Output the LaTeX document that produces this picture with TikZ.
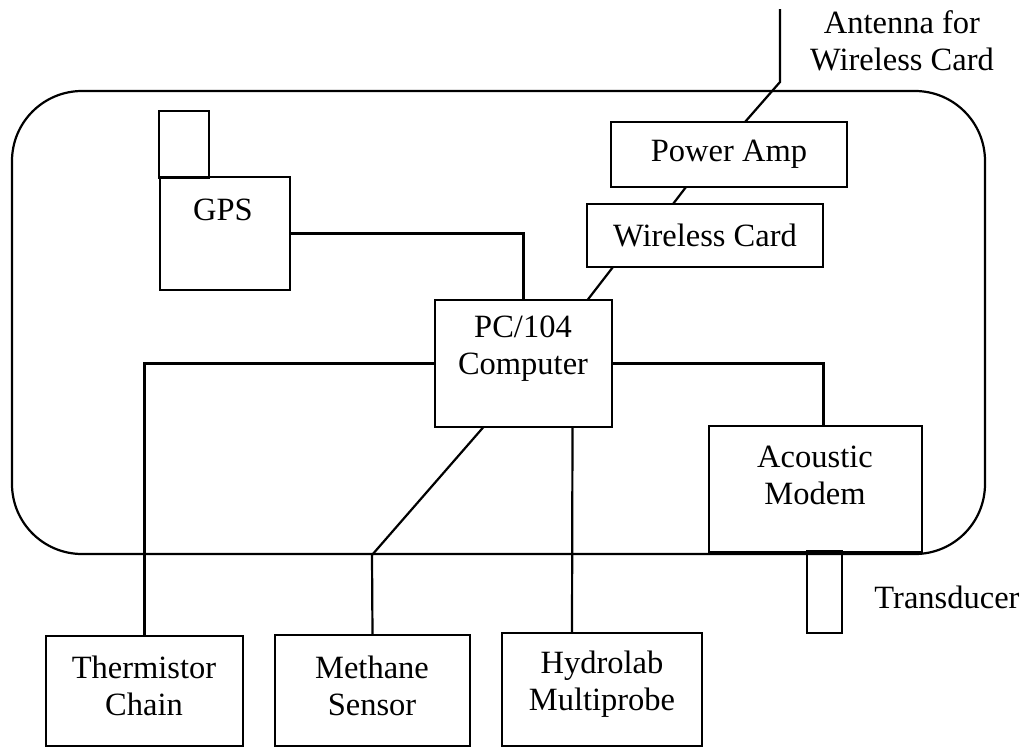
\documentclass[tikz,border=0pt]{standalone}
\usepackage{fontspec}
\setmainfont{Liberation Serif}
\usetikzlibrary{calc}
\begin{document}
\begin{tikzpicture}[x=1pt,y=-1pt,
  line width=2.2pt,
  box/.style={draw, line width=2.2pt, inner sep=0pt, outer sep=0pt, anchor=north west},
  lbl/.style={inner sep=0pt, align=center, font=\fontsize{32.5}{37}\selectfont},
  wire/.style={draw, line width=2.2pt}]
\useasboundingbox (0,0) rectangle (1023,748);
% enclosure
\draw[wire, rounded corners=70pt] (12,91) rectangle (985,554);
% boxes
\node[box, minimum width=50, minimum height=67] (ant) at (159,111) {};
\node[box, minimum width=130, minimum height=113] (gps) at (160,177) {};
\node[box, minimum width=236, minimum height=65] (pa) at (611,122) {};
\node[box, minimum width=236, minimum height=63] (wc) at (587,204) {};
\node[box, minimum width=177, minimum height=127] (pc) at (435,300) {};
\node[box, minimum width=213, minimum height=126] (modem) at (709,426) {};
\node[box, minimum width=35, minimum height=82] (trans) at (807,551) {};
\node[box, minimum width=197, minimum height=110] (therm) at (46,636) {};
\node[box, minimum width=195, minimum height=111] (meth) at (275,635) {};
\node[box, minimum width=200, minimum height=113] (hydro) at (502,633) {};
% labels
\node[lbl] (gpsl) at (223,210) {GPS};
\node[lbl] (pal) at (729,154) {Power Amp};
\node[lbl] (wcl) at (705,235) {Wireless Card};
\node[lbl] (pcl) at (523,349) {PC/104\\Computer};
\node[lbl] (modeml) at (815,475) {Acoustic\\Modem};
\node[lbl] (therml) at (144,686) {Thermistor\\Chain};
\node[lbl] (methl) at (372,686) {Methane\\Sensor};
\node[lbl] (hydrol) at (602,684) {Hydrolab\\Multiprobe};
\node[lbl] (antl) at (902,41) {Antenna for\\Wireless Card};
\node[lbl] (transl) at (947,597) {Transducer};
% connectors
\coordinate (antTop) at (780,9);
\coordinate (antBend) at (780,82);
\coordinate (mbend) at (372,555);
\draw[wire] (antTop) -- (antBend) -- ([xshift=16]pa.north);
\draw[wire] ([xshift=-43]pa.south) -- ([xshift=-32]wc.north);
\draw[wire] ([xshift=-92]wc.south) -- ([xshift=64]pc.north);
\draw[wire] (gps.east) -| (pc.north);
\draw[wire] (pc.west) -| (therm.north);
\draw[wire] (pc.east) -| ([xshift=8]modem.north);
\draw[wire] ([xshift=-40]pc.south) -- (mbend) -- (meth.north);
\draw[wire] ([xshift=49]pc.south) -- ([xshift=-30]hydro.north);
\end{tikzpicture}
\end{document}
